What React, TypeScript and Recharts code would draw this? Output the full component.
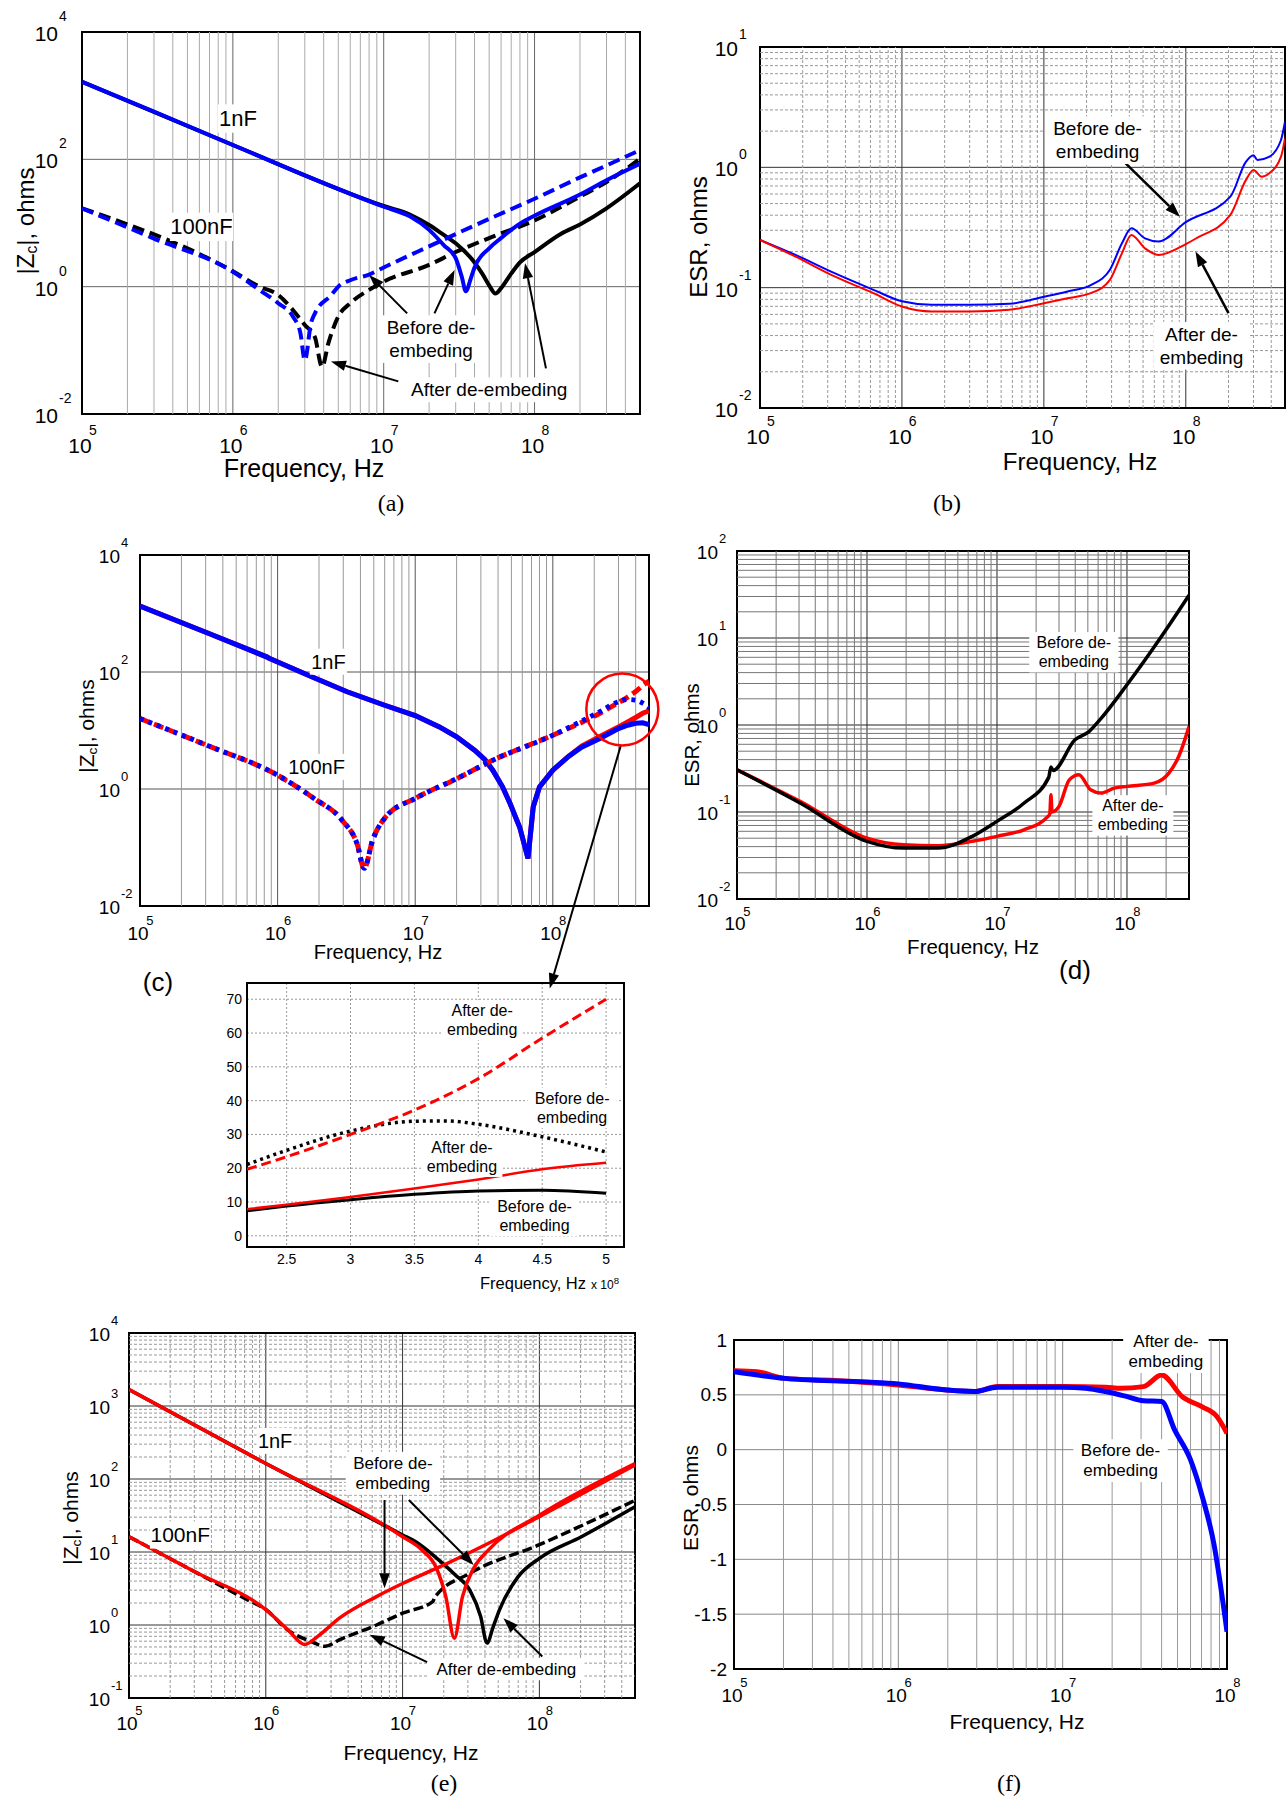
import React from 'react';
import { LineChart, Line, XAxis, YAxis, CartesianGrid, ReferenceLine, ReferenceDot, ReferenceArea } from 'recharts';

type Pt = [number, number];

const BLUE = '#0000ff';
const RED = '#ff0000';
const BLACK = '#000000';
const SANS = '"Liberation Sans", Arial, Helvetica, sans-serif';
const SERIF = '"Liberation Serif", "Times New Roman", serif';

// (a) |Zc| of 1nF / 100nF, blue and black traces
const A_1NF_BLUE: Pt[] = [[1e5, 1650], [3e5, 560], [1e6, 168], [3e6, 56], [1e7, 18], [1.5e7, 12.6], [2e7, 7.8], [2.5e7, 4.5], [3e7, 2.8], [3.3e7, 1.4], [3.5e7, 0.85], [3.8e7, 1.4], [4e7, 2.0], [5e7, 4.0], [6e7, 5.8], [7e7, 7.8], [8e7, 9.8], [1e8, 13], [2e8, 28], [3e8, 47], [5e8, 85]];
const A_1NF_BLACK: Pt[] = [[1e5, 1650], [1e6, 168], [1e7, 18.5], [1.5e7, 13.5], [2e7, 9.3], [2.5e7, 6.5], [3e7, 4.8], [4e7, 2.4], [4.5e7, 1.6], [5e7, 1.05], [5.5e7, 0.78], [6e7, 0.95], [7e7, 1.6], [8e7, 2.4], [1e8, 3.5], [1.5e8, 6.8], [2e8, 9.5], [3e8, 17], [5e8, 42]];
const A_100NF_BLUE: Pt[] = [[1e5, 17], [3e5, 5.7], [1e6, 1.72], [1.5e6, 0.89], [2e6, 0.55], [2.5e6, 0.34], [2.8e6, 0.19], [3e6, 0.07], [3.3e6, 0.27], [3.5e6, 0.38], [4.5e6, 0.74], [5e6, 1.0], [6e6, 1.26], [8e6, 1.55], [1e7, 2.0], [2e7, 4.3], [3e7, 6.7], [5e7, 11.6], [1e8, 24], [2e8, 52], [3e8, 80], [5e8, 140]];
const A_100NF_BLACK: Pt[] = [[1e5, 17], [1e6, 1.75], [1.5e6, 1.0], [2e6, 0.74], [2.5e6, 0.43], [3e6, 0.25], [3.5e6, 0.16], [3.9e6, 0.055], [4.3e6, 0.13], [5e6, 0.34], [6e6, 0.55], [8e6, 0.89], [1e7, 1.2], [2e7, 2.2], [3e7, 3.5], [5e7, 5.8], [1e8, 11], [2e8, 26], [3e8, 44], [5e8, 102]];

// (b) ESR
const B_BLUE: Pt[] = [[1e5, 0.249], [1.78e5, 0.187], [3.35e5, 0.132], [6.3e5, 0.096], [1e6, 0.077], [1.62e6, 0.072], [3e6, 0.072], [5.7e6, 0.0735], [1e7, 0.084], [1.47e7, 0.093], [2.14e7, 0.105], [2.92e7, 0.141], [3.55e7, 0.234], [4.14e7, 0.311], [5.16e7, 0.257], [6.43e7, 0.242], [1e8, 0.35], [2.06e8, 0.57], [2.65e8, 1.11], [3e8, 1.26], [3.2e8, 1.15], [3.86e8, 1.22], [4.68e8, 1.68], [5e8, 2.39]];
const B_RED: Pt[] = [[1e5, 0.249], [1.78e5, 0.181], [3.35e5, 0.124], [6.3e5, 0.09], [1e6, 0.0697], [1.62e6, 0.0634], [3e6, 0.0634], [5.7e6, 0.0655], [1e7, 0.0743], [1.47e7, 0.0818], [2.14e7, 0.09], [2.92e7, 0.116], [3.55e7, 0.193], [4.14e7, 0.274], [5.16e7, 0.212], [6.43e7, 0.187], [1e8, 0.23], [1.17e8, 0.255], [2.06e8, 0.402], [2.65e8, 0.783], [3e8, 0.95], [3.42e8, 0.836], [3.86e8, 0.89], [4.68e8, 1.22], [5e8, 1.74]];

// (c) |Zc| blue (before) / red (after)
const C_1NF_BLUE: Pt[] = [[1e5, 1340], [3.2e5, 450], [8.4e5, 180], [8.6e5, 174], [1.84e6, 80], [3.2e6, 46], [6e6, 27], [1e7, 18], [1.5e7, 11.5], [2e7, 7.8], [2.7e7, 4.6], [3.2e7, 3.2], [3.66e7, 2.1], [4.3e7, 1.1], [4.9e7, 0.56], [5.75e7, 0.22], [6.6e7, 0.065], [7.2e7, 0.49], [8e7, 1.08], [1e8, 2.1], [1.3e8, 3.6], [1.62e8, 5.2], [2.2e8, 7.3], [3e8, 10.8], [3.5e8, 12.3], [4e8, 13.3], [4.5e8, 13.5], [5e8, 12.6]];
const C_1NF_RED: Pt[] = [[1e5, 1340], [3.2e5, 450], [8.4e5, 180], [8.6e5, 174], [1.84e6, 80], [3.2e6, 46], [6e6, 27], [1e7, 18], [1.5e7, 11.5], [2e7, 7.8], [2.7e7, 4.6], [3.2e7, 3.2], [3.66e7, 2.1], [4.3e7, 1.1], [4.9e7, 0.56], [5.75e7, 0.22], [6.6e7, 0.065], [7.2e7, 0.49], [8e7, 1.08], [1e8, 2.1], [1.3e8, 3.6], [1.62e8, 5.4], [2.2e8, 7.9], [3e8, 11.5], [3.5e8, 14], [4e8, 16.7], [4.5e8, 19.7], [5e8, 21.6]];
const C_100NF_BLUE: Pt[] = [[1e5, 16], [3.06e5, 5.6], [1e6, 1.72], [1.84e6, 0.69], [2.95e6, 0.29], [3.78e6, 0.116], [4.26e6, 0.044], [4.9e6, 0.133], [6.08e6, 0.33], [1e7, 0.69], [2e7, 1.5], [3.66e7, 3.1], [1e8, 8.3], [2.2e8, 21], [3e8, 31], [3.5e8, 33.9], [4e8, 33], [4.5e8, 29.3], [5e8, 24.8]];
const C_100NF_RED: Pt[] = [[1e5, 16], [3.06e5, 5.6], [1e6, 1.72], [1.84e6, 0.69], [2.95e6, 0.29], [3.78e6, 0.116], [4.26e6, 0.044], [4.9e6, 0.133], [6.08e6, 0.33], [1e7, 0.69], [2e7, 1.5], [3.66e7, 3.1], [1e8, 8.3], [2.2e8, 19.7], [3e8, 30], [3.5e8, 37.2], [4e8, 46.5], [4.5e8, 58.5], [5e8, 70]];

// zoomed inset, frequency in units of 1e8 Hz, |Zc| in ohms
const I_100NF_RED: Pt[] = [[2.19, 19.7], [2.5, 23.4], [3, 30], [3.5, 37.2], [4, 46.5], [4.5, 58.5], [5, 70]];
const I_100NF_BLACK: Pt[] = [[2.19, 21.1], [2.5, 25.3], [3, 31], [3.5, 33.9], [3.75, 34], [4, 33], [4.5, 29.3], [5, 24.8]];
const I_1NF_RED: Pt[] = [[2.19, 7.9], [2.5, 9.2], [3, 11.5], [3.5, 14], [4, 16.7], [4.5, 19.7], [5, 21.6]];
const I_1NF_BLACK: Pt[] = [[2.19, 7.4], [2.5, 8.8], [3, 10.7], [3.5, 12.3], [4, 13.3], [4.5, 13.5], [5, 12.6]];

// (d) ESR
const D_BLACK: Pt[] = [[1e5, 0.305], [3.08e5, 0.126], [1e6, 0.046], [1.9e6, 0.0385], [3.5e6, 0.0385], [6.46e6, 0.0525], [1e7, 0.078], [1.61e7, 0.126], [2.5e7, 0.25], [2.6e7, 0.33], [2.7e7, 0.3], [3.98e7, 0.676], [5.1e7, 0.84], [6.2e7, 1.15], [1e8, 2.9], [1.84e8, 10.4], [3e8, 31]];
const D_RED: Pt[] = [[1e5, 0.305], [3.08e5, 0.132], [1e6, 0.05], [1.9e6, 0.042], [3.5e6, 0.041], [6.46e6, 0.046], [1e7, 0.0525], [1.61e7, 0.0625], [2.47e7, 0.089], [2.55e7, 0.095], [2.6e7, 0.158], [2.65e7, 0.1], [3e7, 0.116], [3.6e7, 0.234], [4.27e7, 0.268], [5.25e7, 0.18], [6.3e7, 0.165], [8e7, 0.188], [1e8, 0.197], [1.62e8, 0.215], [2.1e8, 0.28], [2.5e8, 0.435], [3e8, 0.96]];

// (e) |Zc| red / black
const E_1NF_RED: Pt[] = [[1e5, 1680], [1e6, 163], [1e7, 16.2], [1.38e7, 10.7], [1.77e7, 6.0], [2.07e7, 2.45], [2.39e7, 0.66], [2.74e7, 2.45], [3.31e7, 6.0], [4.25e7, 10.7], [1e8, 32], [5e8, 163]];
const E_1NF_BLACK: Pt[] = [[1e5, 1680], [1e6, 163], [7.4e6, 23], [1e7, 17.1], [1.24e7, 13.9], [1.78e7, 8.2], [2.43e7, 4.85], [3.1e7, 3.0], [3.72e7, 1.31], [4.14e7, 0.565], [4.6e7, 0.95], [5.1e7, 1.6], [7e7, 4.6], [1e8, 8.2], [2.03e8, 16.2], [5e8, 41.7]];
const E_100NF_RED: Pt[] = [[1e5, 16.2], [3e5, 5.4], [1e6, 1.62], [1.45e6, 0.86], [1.92e6, 0.54], [2.4e6, 0.7], [3.47e6, 1.25], [6.45e6, 2.45], [1e7, 3.7], [1.78e7, 6.0], [4.25e7, 13.2], [1e8, 30.5], [5e8, 155]];
const E_100NF_BLACK: Pt[] = [[1e5, 16.2], [3e5, 5.4], [7.2e5, 2.25], [1e6, 1.63], [1.45e6, 0.85], [2.11e6, 0.6], [2.72e6, 0.51], [3.47e6, 0.63], [6.45e6, 1.0], [1e7, 1.45], [1.66e7, 2.09], [1.72e7, 2.4], [3.1e7, 5.1], [1e8, 12.6], [5e8, 51]];

// (f) ESR, linear ohms
const F_RED: Pt[] = [[1e5, 0.72], [1.38e5, 0.71], [2.04e5, 0.65], [4.07e5, 0.63], [1e6, 0.59], [1.97e6, 0.544], [2.9e6, 0.53], [4e6, 0.575], [1e7, 0.575], [1.82e7, 0.57], [2.24e7, 0.56], [3.1e7, 0.575], [4e7, 0.68], [5.37e7, 0.48], [7.08e7, 0.39], [8.7e7, 0.3], [1e8, 0.15]];
const F_BLUE: Pt[] = [[1e5, 0.71], [2.04e5, 0.65], [1e6, 0.6], [1.97e6, 0.544], [2.9e6, 0.53], [4e6, 0.57], [1e7, 0.57], [1.38e7, 0.56], [1.82e7, 0.53], [2.38e7, 0.49], [3.1e7, 0.446], [4e7, 0.44], [4.8e7, 0.18], [6e7, -0.094], [7.08e7, -0.43], [8.3e7, -0.85], [1e8, -1.66]];

const INSET_X_TICKS = [2.5, 3, 3.5, 4, 4.5, 5];
const INSET_Y_TICKS = [0, 10, 20, 30, 40, 50, 60, 70];
const F_Y_TICKS = [-2, -1.5, -1, -0.5, 0, 0.5, 1];

// plot boxes in page pixels: left, top, right, bottom
const A_BOX = [82, 32, 640, 414];
const B_BOX = [760, 47, 1285, 408];
const C_BOX = [140, 555, 649, 906];
const I_BOX = [247, 983, 624, 1247];
const D_BOX = [737, 551, 1189, 899];
const E_BOX = [129, 1333, 635, 1698];
const F_BOX = [734, 1340, 1227, 1669];

const decades = (lo: number, hi: number) => {
  const out: number[] = [];
  for (let e = Math.ceil(Math.log10(lo) - 1e-9); e <= Math.floor(Math.log10(hi) + 1e-9); e++) out.push(Math.pow(10, e));
  return out;
};
// 2..9 x 10^n between lo and hi (minor grid)
const logGrid = (lo: number, hi: number) => {
  const out: number[] = [];
  for (let e = Math.floor(Math.log10(lo)); e <= Math.ceil(Math.log10(hi)); e++)
    for (let k = 2; k < 10; k++) {
      const v = k * Math.pow(10, e);
      if (v > lo * 1.001 && v < hi * 0.999) out.push(v);
    }
  return out;
};

const ExpTick = (q: any) => {
  const { x, y, payload, side, fs, sfs, o1, o2 } = q;
  if (x == null || !payload) return null;
  const e = Math.round(Math.log10(payload.value));
  if (side === 'x') {
    return (
      <g>
        <text x={x - 2} y={y + o1} textAnchor="middle" dominantBaseline="central" fontSize={fs} fill="#000">10</text>
        <text x={x + fs * 0.33} y={y + o2} dominantBaseline="central" fontSize={sfs} fill="#000">{e}</text>
      </g>
    );
  }
  return (
    <g>
      <text x={x - o1} y={y + 1.5} textAnchor="end" dominantBaseline="central" fontSize={fs} fill="#000">10</text>
      <text x={x - o1 + 1} y={y - o2} dominantBaseline="central" fontSize={sfs} fill="#000">{e}</text>
    </g>
  );
};
const expTick = (side: string, fs: number, sfs: number, o1: number, o2: number) => (q: any) =>
  <ExpTick {...q} side={side} fs={fs} sfs={sfs} o1={o1} o2={o2} />;

const numTick = (side: string, fs: number, off: number) => (q: any) => {
  const { x, y, payload } = q;
  if (x == null || !payload) return null;
  if (side === 'x') return <text x={x} y={y + off} textAnchor="middle" dominantBaseline="central" fontSize={fs} fill="#000">{payload.value}</text>;
  return <text x={x - off} y={y} textAnchor="end" dominantBaseline="central" fontSize={fs} fill="#000">{payload.value}</text>;
};

const noteShape = (lines: string[], fs: number) => (q: any) => {
  const { cx, cy } = q;
  if (cx == null) return null;
  const lh = fs * 1.2;
  const w = Math.max(...lines.map(l => l.length)) * fs * 0.52 + 6;
  const h = lines.length * lh + 2;
  return (
    <g>
      <rect x={cx - w / 2} y={cy - h / 2} width={w} height={h} fill="#fff" />
      {lines.map((l, i) => (
        <text key={i} x={cx} y={cy - h / 2 + 1 + lh * (i + 0.5)} textAnchor="middle" dominantBaseline="central" fontSize={fs} fill="#000">{l}</text>
      ))}
    </g>
  );
};

const arrowShape = (w: number, head: number) => (q: any) => {
  const { x1, y1, x2, y2 } = q;
  if (x1 == null) return null;
  const a = Math.atan2(y2 - y1, x2 - x1);
  const hx = x2 - head * Math.cos(a);
  const hy = y2 - head * Math.sin(a);
  const px = Math.sin(a) * head * 0.35;
  const py = -Math.cos(a) * head * 0.35;
  return (
    <g>
      <line x1={x1} y1={y1} x2={hx} y2={hy} stroke="#000" strokeWidth={w} />
      <polygon points={`${x2},${y2} ${hx + px},${hy + py} ${hx - px},${hy - py}`} fill="#000" />
    </g>
  );
};

interface Series { pts: Pt[]; color: string; width: number; dash?: string; curve?: string }
interface Note { x: number; y: number; lines: string[]; fs: number }
interface Arrow { from: Pt; to: Pt; w?: number; head?: number }

function Plot(p: any) {
  const [L, T, R, B] = p.box;
  const pad = p.pad ?? { l: 80, t: 30, r: 20, b: 60 };
  const w = R - L + pad.l + pad.r;
  const h = B - T + pad.t + pad.b;
  const xs = p.xLog ? 'log' : 'linear';
  const ys = p.yLog ? 'log' : 'linear';
  const series: Series[] = p.series;
  const notes: Note[] = p.notes ?? [];
  const arrows: Arrow[] = p.arrows ?? [];
  const rings: any[] = p.rings ?? [];
  const xMinor: number[] = p.xMinor ?? [];
  const yMinor: number[] = p.yMinor ?? [];
  return (
    <div style={{ position: 'absolute', left: L - pad.l, top: T - pad.t }}>
      <LineChart width={w} height={h} margin={{ top: pad.t, right: pad.r, left: 0, bottom: 0 }}>
        <XAxis type="number" dataKey="x" scale={xs} domain={p.xDomain} ticks={p.xTicks} allowDataOverflow interval={0}
          tickSize={0} tickMargin={0} tickLine={false} axisLine={false} height={pad.b} tick={p.xTick} />
        <YAxis type="number" scale={ys} domain={p.yDomain} ticks={p.yTicks} allowDataOverflow interval={0}
          tickSize={0} tickMargin={0} tickLine={false} axisLine={false} width={pad.l} tick={p.yTick} />
        {xMinor.map((v, i) => (
          <ReferenceLine key={'gx' + i} x={v} stroke={p.minorColor} strokeWidth={1} strokeDasharray={p.minorDash} />
        ))}
        {yMinor.map((v, i) => (
          <ReferenceLine key={'gy' + i} y={v} stroke={p.minorColor} strokeWidth={1} strokeDasharray={p.minorDash} />
        ))}
        <CartesianGrid stroke={p.gridColor} strokeDasharray={p.gridDash} />
        <ReferenceArea x1={p.xDomain[0]} x2={p.xDomain[1]} y1={p.yDomain[0]} y2={p.yDomain[1]}
          fill="none" fillOpacity={0} stroke="#000" strokeWidth={p.frame ?? 2} ifOverflow="visible" />
        {series.map((s, i) => (
          <Line key={'s' + i} data={s.pts.map(([x, y]) => ({ x, y }))} dataKey="y" type={(s.curve ?? 'monotone') as any}
            stroke={s.color} strokeWidth={s.width} strokeDasharray={s.dash} dot={false} activeDot={false} isAnimationActive={false} />
        ))}
        {rings.map((r, i) => (
          <ReferenceDot key={'r' + i} x={r.x} y={r.y} r={r.r} fill="none" stroke={r.color} strokeWidth={2.5} ifOverflow="visible" />
        ))}
        {arrows.map((a, i) => (
          <ReferenceLine key={'a' + i} segment={[{ x: a.from[0], y: a.from[1] }, { x: a.to[0], y: a.to[1] }]}
            ifOverflow="visible" shape={arrowShape(a.w ?? 2, a.head ?? 15)} />
        ))}
        {notes.map((n, i) => (
          <ReferenceDot key={'n' + i} x={n.x} y={n.y} r={1} ifOverflow="visible" shape={noteShape(n.lines, n.fs)} />
        ))}
      </LineChart>
    </div>
  );
}

const Txt = ({ x, y, fs, rot, serif, children }: any) => (
  <div style={{
    position: 'absolute', left: x, top: y, transform: `translate(-50%, -50%)${rot ? ' rotate(-90deg)' : ''}`,
    fontSize: fs, fontFamily: serif ? SERIF : SANS, whiteSpace: 'nowrap', lineHeight: 1, color: '#000',
  }}>{children}</div>
);

const Zc = () => <span>|Z<sub style={{ fontSize: '0.65em', verticalAlign: '-0.2em' }}>c</sub>|, ohms</span>;

export default function App() {
  return (
    <div style={{ position: 'absolute', left: 0, top: 0, width: 1286, height: 1796, overflow: 'hidden', background: '#fff', fontFamily: SANS }}>
      {/* (a) */}
      <Plot box={A_BOX} xLog yLog xDomain={[1e5, 5e8]} yDomain={[1e-2, 1e4]}
        xTicks={decades(1e5, 5e8)} yTicks={[1e-2, 1, 1e2, 1e4]} xMinor={logGrid(1e5, 5e8)}
        gridColor="#666" minorColor="#aaa"
        xTick={expTick('x', 21, 14, 31, 16)} yTick={expTick('y', 21, 14, 24, 16)}
        series={[
          { pts: A_1NF_BLACK, color: BLACK, width: 4 },
          { pts: A_100NF_BLACK, color: BLACK, width: 4, dash: '12 6' },
          { pts: A_100NF_BLUE, color: BLUE, width: 4, dash: '12 6' },
          { pts: A_1NF_BLUE, color: BLUE, width: 4 },
        ]}
        arrows={[
          { from: [1.43e7, 0.38], to: [8e6, 1.53] },
          { from: [2.17e7, 0.38], to: [2.95e7, 1.83] },
          { from: [1.19e8, 0.052], to: [8.65e7, 2.33] },
          { from: [1.25e7, 0.0325], to: [4.47e6, 0.0668] },
        ]}
        notes={[
          { x: 1.08e6, y: 437, lines: ['1nF'], fs: 22 },
          { x: 6.2e5, y: 8.7, lines: ['100nF'], fs: 22 },
          { x: 2.06e7, y: 0.15, lines: ['Before de-', 'embeding'], fs: 19 },
          { x: 5.0e7, y: 0.024, lines: ['After de-embeding'], fs: 19 },
        ]}
      />
      <Txt x={304} y={468} fs={25}>Frequency, Hz</Txt>
      <Txt x={27} y={221} fs={24} rot><Zc /></Txt>
      <Txt x={391} y={503} fs={24} serif>(a)</Txt>

      {/* (b) */}
      <Plot box={B_BOX} pad={{ l: 80, t: 30, r: 1, b: 60 }} xLog yLog xDomain={[1e5, 5e8]} yDomain={[1e-2, 1e1]}
        xTicks={decades(1e5, 5e8)} yTicks={decades(1e-2, 1e1)} xMinor={logGrid(1e5, 5e8)} yMinor={logGrid(1e-2, 1e1)}
        gridColor="#333" minorColor="#999" minorDash="3 2"
        xTick={expTick('x', 21, 14, 28, 13)} yTick={expTick('y', 21, 14, 22, 13)}
        series={[
          { pts: B_BLUE, color: BLUE, width: 2 },
          { pts: B_RED, color: RED, width: 2 },
        ]}
        arrows={[
          { from: [3.77e7, 1.08], to: [9.1e7, 0.389], w: 2.5 },
          { from: [2.0e8, 0.0614], to: [1.17e8, 0.2], w: 2.5 },
        ]}
        notes={[
          { x: 2.39e7, y: 1.68, lines: ['Before de-', 'embeding'], fs: 19 },
          { x: 1.29e8, y: 0.0329, lines: ['After de-', 'embeding'], fs: 19 },
        ]}
      />
      <Txt x={1080} y={462} fs={24}>Frequency, Hz</Txt>
      <Txt x={699} y={237} fs={24} rot>ESR, ohms</Txt>
      <Txt x={947} y={503} fs={24} serif>(b)</Txt>

      {/* (c) */}
      <Plot box={C_BOX} pad={{ l: 80, t: 30, r: 20, b: 95 }} xLog yLog xDomain={[1e5, 5e8]} yDomain={[1e-2, 1e4]}
        xTicks={decades(1e5, 5e8)} yTicks={[1e-2, 1, 1e2, 1e4]} xMinor={logGrid(1e5, 5e8)}
        gridColor="#555" minorColor="#999"
        xTick={expTick('x', 19, 13, 27, 14)} yTick={expTick('y', 19, 13, 20, 13)}
        series={[
          { pts: C_1NF_RED, color: RED, width: 5, curve: 'linear' },
          { pts: C_1NF_BLUE, color: BLUE, width: 5, curve: 'linear' },
          { pts: C_100NF_RED, color: RED, width: 5, dash: '10 5' },
          { pts: C_100NF_BLUE, color: BLUE, width: 5, dash: '4 5' },
        ]}
        rings={[{ x: 3.2e8, y: 22.9, r: 36, color: RED }]}
        arrows={[{ from: [3.11e8, 5.4], to: [9.5e7, 3.9e-4], w: 2, head: 15 }]}
        notes={[
          { x: 2.34e6, y: 150, lines: ['1nF'], fs: 20 },
          { x: 1.92e6, y: 2.39, lines: ['100nF'], fs: 20 },
        ]}
      />
      <Txt x={378} y={952} fs={20}>Frequency, Hz</Txt>
      <Txt x={88} y={726} fs={21} rot><Zc /></Txt>
      <Txt x={158} y={982} fs={26}>(c)</Txt>

      {/* inset */}
      <Plot box={I_BOX} pad={{ l: 50, t: 20, r: 20, b: 30 }} xDomain={[2.19, 5.14]} yDomain={[-3.3, 74.8]}
        xTicks={INSET_X_TICKS} yTicks={INSET_Y_TICKS}
        gridColor="#999" gridDash="2 2" frame={2}
        xTick={numTick('x', 14, 12)} yTick={numTick('y', 14, 5)}
        series={[
          { pts: I_1NF_BLACK, color: BLACK, width: 3 },
          { pts: I_1NF_RED, color: RED, width: 2.5 },
          { pts: I_100NF_BLACK, color: BLACK, width: 3.5, dash: '3 4' },
          { pts: I_100NF_RED, color: RED, width: 3, dash: '10 5' },
        ]}
        notes={[
          { x: 4.03, y: 63.8, lines: ['After de-', 'embeding'], fs: 16 },
          { x: 4.734, y: 37.9, lines: ['Before de-', 'embeding'], fs: 16 },
          { x: 3.872, y: 23.4, lines: ['After de-', 'embeding'], fs: 16 },
          { x: 4.44, y: 5.9, lines: ['Before de-', 'embeding'], fs: 16 },
        ]}
      />
      <Txt x={533} y={1283} fs={16.5}>Frequency, Hz</Txt>
      <Txt x={605} y={1283} fs={12}>x 10<sup style={{ fontSize: '0.8em' }}>8</sup></Txt>

      {/* (d) */}
      <Plot box={D_BOX} xLog yLog xDomain={[1e5, 3e8]} yDomain={[1e-2, 1e2]}
        xTicks={decades(1e5, 3e8)} yTicks={decades(1e-2, 1e2)} xMinor={logGrid(1e5, 3e8)} yMinor={logGrid(1e-2, 1e2)}
        gridColor="#222" minorColor="#777"
        xTick={expTick('x', 19, 13, 24, 12)} yTick={expTick('y', 19, 13, 19, 13)}
        series={[
          { pts: D_RED, color: RED, width: 3.5 },
          { pts: D_BLACK, color: BLACK, width: 3.5 },
        ]}
        notes={[
          { x: 3.9e7, y: 6.86, lines: ['Before de-', 'embeding'], fs: 16 },
          { x: 1.11e8, y: 0.0914, lines: ['After de-', 'embeding'], fs: 16 },
        ]}
      />
      <Txt x={973} y={947} fs={20.5}>Frequency, Hz</Txt>
      <Txt x={692} y={735} fs={20.5} rot>ESR, ohms</Txt>
      <Txt x={1075} y={970} fs={26}>(d)</Txt>

      {/* (e) */}
      <Plot box={E_BOX} xLog yLog xDomain={[1e5, 5e8]} yDomain={[1e-1, 1e4]}
        xTicks={decades(1e5, 5e8)} yTicks={decades(1e-1, 1e4)} xMinor={logGrid(1e5, 5e8)} yMinor={logGrid(1e-1, 1e4)}
        gridColor="#333" minorColor="#999" minorDash="3 2"
        xTick={expTick('x', 19, 13, 25, 12)} yTick={expTick('y', 19, 13, 19, 13)}
        series={[
          { pts: E_1NF_BLACK, color: BLACK, width: 3.5 },
          { pts: E_100NF_BLACK, color: BLACK, width: 3.5, dash: '10 4' },
          { pts: E_100NF_RED, color: RED, width: 3.5 },
          { pts: E_1NF_RED, color: RED, width: 3.5 },
        ]}
        arrows={[
          { from: [7.38e6, 51.5], to: [7.38e6, 3.19] },
          { from: [1.11e7, 51.5], to: [3.31e7, 6.65] },
          { from: [1.51e7, 0.31], to: [5.75e6, 0.735] },
          { from: [1.05e8, 0.371], to: [5.46e7, 1.24] },
        ]}
        notes={[
          { x: 1.17e6, y: 333, lines: ['1nF'], fs: 20 },
          { x: 2.37e5, y: 17.1, lines: ['100nF'], fs: 21 },
          { x: 8.5e6, y: 120, lines: ['Before de-', 'embeding'], fs: 17 },
          { x: 5.74e7, y: 0.249, lines: ['After de-embeding'], fs: 17 },
        ]}
      />
      <Txt x={411} y={1752} fs={21}>Frequency, Hz</Txt>
      <Txt x={72} y={1518} fs={21} rot><Zc /></Txt>
      <Txt x={444} y={1783} fs={24} serif>(e)</Txt>

      {/* (f) */}
      <Plot box={F_BOX} xLog xDomain={[1e5, 1e8]} yDomain={[-2, 1]}
        xTicks={decades(1e5, 1e8)} yTicks={F_Y_TICKS} xMinor={logGrid(1e5, 1e8)}
        gridColor="#888" minorColor="#999"
        xTick={expTick('x', 19, 13, 26, 13)} yTick={numTick('y', 19, 7)}
        series={[
          { pts: F_RED, color: RED, width: 5 },
          { pts: F_BLUE, color: BLUE, width: 5 },
        ]}
        notes={[
          { x: 4.25e7, y: 0.894, lines: ['After de-', 'embeding'], fs: 17 },
          { x: 2.25e7, y: -0.1, lines: ['Before de-', 'embeding'], fs: 17 },
        ]}
      />
      <Txt x={1017} y={1721} fs={21}>Frequency, Hz</Txt>
      <Txt x={690} y={1498} fs={21} rot>ESR, ohms</Txt>
      <Txt x={1009} y={1783} fs={24} serif>(f)</Txt>
    </div>
  );
}
